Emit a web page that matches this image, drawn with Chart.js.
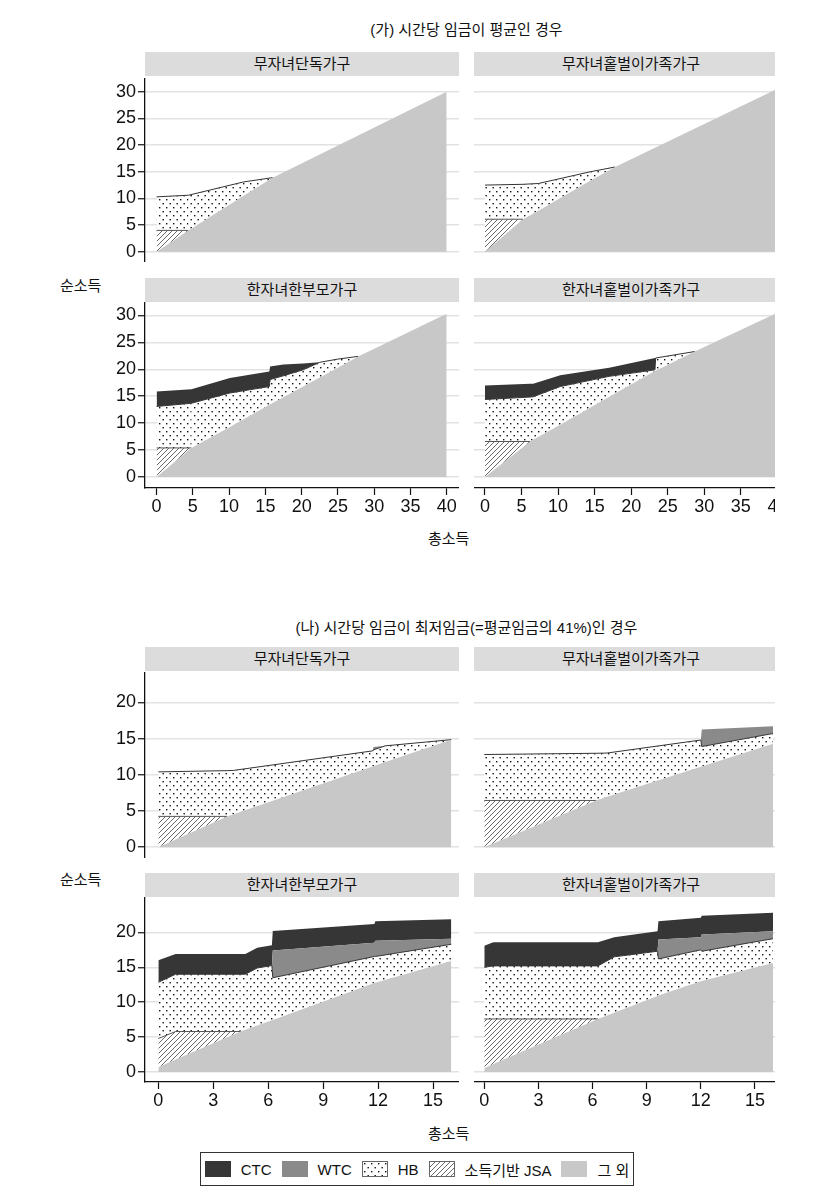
<!DOCTYPE html>
<html lang="ko">
<head>
<meta charset="utf-8">
<script src="https://cdn.jsdelivr.net/npm/chart.js@4.4.1/dist/chart.umd.min.js"></script>
<style>
  html, body { margin: 0; background: #fff; }
  body { width: 832px; height: 1198px; position: relative; overflow: hidden;
         font-family: "Liberation Sans", "Noto Sans CJK KR", sans-serif; color: #111; }
  #fig { position: absolute; left: 0; top: 0; width: 775px; height: 1198px; overflow: hidden; }
  .title { position: absolute; left: 145px; width: 643px; text-align: center; font-size: 15px; line-height: 20px; }
  .strip { position: absolute; width: 314px; height: 24px; line-height: 24px; background: #dcdcdc;
           text-align: center; font-size: 15px; }
  .panel { position: absolute; }
  .lab { position: absolute; font-size: 15px; line-height: 18px; white-space: nowrap; }
  #legend { position: absolute; left: 200px; top: 1152px; width: 432px; height: 32px; border: 1px solid #333;
            display: flex; align-items: center; justify-content: center; font-size: 15px; white-space: nowrap; }
  #legend span { display: flex; align-items: center; margin: 0 5px; }
  #legend i { display: inline-block; width: 26px; height: 16px; margin-right: 10px; }
</style>
</head>
<body>
<div id="fig"></div>
<script>
// rows: [총소득, 그 외, 소득기반 JSA, HB, WTC, CTC]
// (가) 시간당 임금이 평균인 경우
const a1 = [
  [0, 0, 4.0, 6.3, 0, 0],
  [4.4, 4.0, 0, 6.6, 0, 0],
  [12, 10.5, 0, 2.6, 0, 0],
  [16, 13.9, 0, 0, 0, 0],
  [40, 30, 0, 0, 0, 0]
];
const a2 = [
  [0, 0, 6.1, 6.4, 0, 0],
  [5.2, 6.1, 0, 6.55, 0, 0],
  [7.3, 7.7, 0, 5.1, 0, 0],
  [14.4, 13.3, 0, 1.7, 0, 0],
  [17.8, 15.9, 0, 0, 0, 0],
  [40, 30.6, 0, 0, 0, 0]
];
const a3 = [
  [0, 0, 5.4, 7.7, 0, 2.8],
  [4.8, 5.4, 0, 8.3, 0, 2.6],
  [10.1, 9.3, 0, 6.3, 0, 2.8],
  [15.55, 13.4, 0, 3.4, 0, 2.8],
  [15.65, 13.5, 0, 4.6, 0, 2.4],
  [17.5, 14.8, 0, 4.0, 0, 2.1],
  [20.2, 16.8, 0, 3.1, 0, 1.2],
  [22.5, 18.5, 0, 2.8, 0, 0],
  [25, 20.3, 0, 1.6, 0, 0],
  [27.8, 22.4, 0, 0, 0, 0],
  [40, 30.3, 0, 0, 0, 0]
];
const a4 = [
  [0, 0, 6.6, 7.8, 0, 2.6],
  [6.2, 6.6, 0, 8.25, 0, 2.45],
  [6.6, 6.9, 0, 8.0, 0, 2.4],
  [10.3, 9.7, 0, 7.1, 0, 2.1],
  [17, 14.9, 0, 3.8, 0, 1.6],
  [23.25, 19.7, 0, 0.2, 0, 2.2],
  [23.35, 19.75, 0, 2.35, 0, 0],
  [28.7, 23.3, 0, 0, 0, 0],
  [40, 30.5, 0, 0, 0, 0]
];
// (나) 시간당 임금이 최저임금인 경우
const b1 = [
  [0, 0, 4.25, 6.15, 0, 0],
  [3.76, 4.25, 0, 6.32, 0, 0],
  [4.1, 4.55, 0, 6.05, 0, 0],
  [11.7, 11.15, 0, 2.15, 0, 0],
  [11.75, 11.2, 0, 2.25, 0.4, 0],
  [12.4, 11.75, 0, 2.25, 0, 0],
  [16, 14.85, 0, 0, 0, 0]
];
const b2 = [
  [0, 0, 6.45, 6.35, 0, 0],
  [6.2, 6.45, 0, 6.52, 0, 0],
  [6.8, 6.95, 0, 6.05, 0, 0],
  [12, 11.1, 0, 3.7, 0, 0],
  [12.05, 11.15, 0, 2.75, 2.35, 0],
  [16, 14.3, 0, 1.4, 1.0, 0]
];
const b3 = [
  [0, 0.7, 4.1, 8.05, 0, 3.15],
  [0.94, 1.8, 4.0, 8.2, 0, 2.9],
  [4.5, 5.8, 0, 8.2, 0, 2.9],
  [4.75, 6.05, 0, 7.95, 0, 2.9],
  [5.4, 6.65, 0, 8.25, 0, 2.9],
  [6.2, 7.4, 0, 7.85, 0, 2.9],
  [6.25, 7.45, 0, 6.05, 3.9, 2.8],
  [11.8, 12.75, 0, 3.8, 1.95, 2.7],
  [11.85, 12.8, 0, 3.75, 2.25, 2.8],
  [16, 15.9, 0, 2.4, 0.8, 2.8]
];
const b4 = [
  [0, 0.55, 7.05, 7.4, 0, 3.1],
  [0.5, 1.15, 6.45, 7.6, 0, 3.4],
  [6.3, 7.6, 0, 7.6, 0, 3.4],
  [7.2, 8.5, 0, 8.0, 0, 2.8],
  [9.6, 10.9, 0, 6.4, 0, 2.85],
  [9.65, 10.95, 0, 5.25, 2.8, 2.6],
  [12, 13.0, 0, 4.5, 1.8, 2.8],
  [12.05, 13.05, 0, 4.25, 2.4, 2.7],
  [16, 15.6, 0, 3.5, 1.05, 2.65]
];

const seriesNames = ['그 외', '소득기반 JSA', 'HB', 'WTC', 'CTC'];
const householdNames = ['무자녀단독가구', '무자녀홑벌이가족가구', '한자녀한부모가구', '한자녀홑벌이가족가구'];
const titles = ['(가) 시간당 임금이 평균인 경우', '(나) 시간당 임금이 최저임금(=평균임금의 41%)인 경우'];
const yTicksA = [0, 5, 10, 15, 20, 25, 30];
const yTicksB = [0, 5, 10, 15, 20];
const xTicksA = [0, 5, 10, 15, 20, 25, 30, 35, 40];
const xTicksB = [0, 3, 6, 9, 12, 15];

// fills
function dots() {
  const c = document.createElement('canvas');
  c.width = 7; c.height = 8;
  const g = c.getContext('2d');
  g.fillStyle = '#fff'; g.fillRect(0, 0, 7, 8);
  g.fillStyle = '#111';
  g.fillRect(1, 1, 1.4, 1.4);
  g.fillRect(4.5, 5, 1.4, 1.4);
  return c;
}
function hatch() {
  const c = document.createElement('canvas');
  c.width = 5; c.height = 5;
  const g = c.getContext('2d');
  g.fillStyle = '#fff'; g.fillRect(0, 0, 5, 5);
  g.strokeStyle = '#444'; g.lineWidth = 0.8;
  g.beginPath();
  g.moveTo(0, 5); g.lineTo(5, 0);
  g.moveTo(-1, 1); g.lineTo(1, -1);
  g.moveTo(4, 6); g.lineTo(6, 4);
  g.stroke();
  return c;
}
const dotTile = dots(), hatchTile = hatch();
const tmp = document.createElement('canvas').getContext('2d');
const fills = ['#c8c8c8', tmp.createPattern(hatchTile, 'repeat'), tmp.createPattern(dotTile, 'repeat'), '#8a8a8a', '#363636'];
const edges = [null, '#555', '#333', null, null];

Chart.defaults.font.family = '"Liberation Sans", "Noto Sans CJK KR", sans-serif';
Chart.defaults.color = '#111';

const fig = document.getElementById('fig');
function add(cls, text, css) {
  const d = document.createElement('div');
  d.className = cls;
  d.textContent = text;
  Object.assign(d.style, css);
  fig.appendChild(d);
  return d;
}

// layout of the four panel rows
const rowsLayout = [
  { strip: 52, top: 78, h: 184, y: [-1.93, 32.6], yt: yTicksA, xt: xTicksA, xAxis: false },
  { strip: 278, top: 302, h: 186, y: [-2.04, 32.5], yt: yTicksA, xt: xTicksA, xAxis: true },
  { strip: 647, top: 672, h: 186, y: [-1.5, 24.2], yt: yTicksB, xt: xTicksB, xAxis: false },
  { strip: 873, top: 897, h: 185, y: [-1.43, 25.07], yt: yTicksB, xt: xTicksB, xAxis: true }
];
const colLeft = [145, 474];
const xRange = [
  [[-1.6, 41.7], [-1.5, 41.45]],
  [[-0.73, 16.42], [-0.57, 16.83]]
];
const panels = [
  [a1, a2], [a3, a4], [b1, b2], [b3, b4]
];
const plotW = 314, yAxisW = 50, xAxisH = 34;

// keep the plot area fixed: no extra room for half tick labels
function noPad(s) {
  s.paddingTop = 0; s.paddingBottom = 0; s.paddingLeft = 0; s.paddingRight = 0;
}

function drawPanel(r, c) {
  const lay = rowsLayout[r];
  const rows = panels[r][c];
  const left = c === 0;
  const rng = xRange[r < 2 ? 0 : 1][c];
  add('strip', householdNames[(r % 2) * 2 + c], { left: colLeft[c] + 'px', top: lay.strip + 'px' });

  const box = document.createElement('div');
  box.className = 'panel';
  const w = plotW + (left ? yAxisW : 0);
  const h = lay.h + (lay.xAxis ? xAxisH : 0);
  box.style.left = (colLeft[c] - (left ? yAxisW : 0)) + 'px';
  box.style.top = lay.top + 'px';
  const cv = document.createElement('canvas');
  cv.width = w; cv.height = h;
  cv.style.width = w + 'px'; cv.style.height = h + 'px';
  box.appendChild(cv);
  fig.appendChild(box);

  const datasets = seriesNames.map((name, k) => ({
    label: name,
    data: rows.map(p => ({ x: p[0], y: p[k + 1] })),
    backgroundColor: fills[k],
    fill: k === 0 ? 'origin' : '-1',
    borderWidth: edges[k] ? 1 : 0,
    borderColor: 'transparent',
    segment: edges[k] ? {
      borderColor: s => (rows[s.p0DataIndex][k + 1] > 0 || rows[s.p1DataIndex][k + 1] > 0) ? edges[k] : 'transparent'
    } : {},
    pointRadius: 0,
    tension: 0
  }));

  new Chart(cv, {
    type: 'line',
    data: { datasets },
    options: {
      responsive: false,
      animation: false,
      layout: { padding: 0, autoPadding: false },
      plugins: { legend: { display: false }, tooltip: { enabled: false } },
      scales: {
        x: {
          type: 'linear', min: rng[0], max: rng[1], display: lay.xAxis,
          afterBuildTicks: s => { s.ticks = lay.xt.map(v => ({ value: v })); },
          afterFit: s => { s.height = lay.xAxis ? xAxisH : 0; noPad(s); },
          border: { color: '#111', width: 1.3 },
          grid: { drawOnChartArea: false, tickLength: 7, tickColor: '#111', tickWidth: 1.2 },
          ticks: { font: { size: 18 }, color: '#111', padding: 1, maxRotation: 0, autoSkip: false }
        },
        y: {
          stacked: true, min: lay.y[0], max: lay.y[1],
          afterBuildTicks: s => { s.ticks = lay.yt.map(v => ({ value: v })); },
          afterFit: s => { s.width = left ? yAxisW : 0; noPad(s); },
          border: { display: left, color: '#111', width: 1.3 },
          grid: { color: '#e2e2e2', lineWidth: 1.5, drawTicks: left, tickLength: 7, tickColor: '#111', tickWidth: 1.2 },
          ticks: { display: left, font: { size: 18 }, color: '#111', padding: 2, autoSkip: false }
        }
      }
    }
  });
}

add('title', titles[0], { top: '20px' });
add('title', titles[1], { top: '618px' });
for (let r = 0; r < 4; r++) for (let c = 0; c < 2; c++) drawPanel(r, c);
add('lab', '순소득', { left: '60px', top: '277px' });
add('lab', '순소득', { left: '60px', top: '871px' });
add('lab', '총소득', { left: '428px', top: '530px' });
add('lab', '총소득', { left: '428px', top: '1125px' });

// legend
const legend = document.createElement('div');
legend.id = 'legend';
[4, 3, 2, 1, 0].forEach(k => {
  const s = document.createElement('span');
  const i = document.createElement('i');
  if (k === 2 || k === 1) {
    i.style.backgroundImage = 'url(' + (k === 2 ? dotTile : hatchTile).toDataURL() + ')';
    i.style.boxSizing = 'border-box';
    i.style.border = '1px solid #666';
  } else {
    i.style.background = fills[k];
  }
  s.appendChild(i);
  s.appendChild(document.createTextNode(seriesNames[k]));
  legend.appendChild(s);
});
fig.appendChild(legend);
</script>
</body>
</html>
